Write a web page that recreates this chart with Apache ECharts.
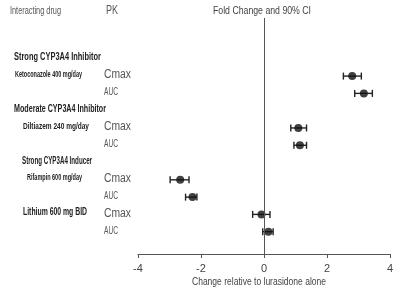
<!DOCTYPE html>
<html>
<head>
<meta charset="utf-8">
<script src="https://cdn.jsdelivr.net/npm/echarts@6/dist/echarts.min.js"></script>
<style>
  html, body { margin: 0; padding: 0; background: #fff; }
  #main { width: 400px; height: 294px; }
</style>
</head>
<body>
<div id="main"></div>
<script>
// one row per line of the table, row 0 at the top
const groupLabels = [
  'Strong CYP3A4 Inhibitor', 'Ketoconazole 400 mg/day',
  'Moderate CYP3A4 Inhibitor', 'Diltiazem 240 mg/day',
  'Strong CYP3A4 Inducer', 'Rifampin 600 mg/day',
  'Lithium 600 mg BID'
]
const groupRows = [0, 1, 3, 4, 6, 7, 9]
const pkRows = [1, 2, 4, 5, 7, 8, 9, 10]
const pkLabels = ['Cmax', 'AUC', 'Cmax', 'AUC', 'Cmax', 'AUC', 'Cmax', 'AUC']
const foldChange = [2.8, 3.17, 1.09, 1.14, -2.66, -2.27, -0.08, 0.14]
const ciLow = [2.52, 2.88, 0.85, 0.95, -2.98, -2.49, -0.36, -0.04]
const ciHigh = [3.09, 3.44, 1.35, 1.35, -2.38, -2.13, 0.19, 0.29]
const xTicks = [-4, -2, 0, 2, 4]

// layout of the left-hand labels: [left, font px, target width]
const groupLayout = [
  [14, 11, 87], [15, 9.5, 67],
  [14, 11, 92], [23, 9.5, 66],
  [22, 11, 70], [27, 9, 55],
  [23, 10.5, 64]
]

const FONT = "'Liberation Sans', Arial, sans-serif"
const ctx = document.createElement('canvas').getContext('2d')
// squeeze a regular font to look like the condensed face of the original
function squeezed(text, x, y, font, width, fill, align) {
  ctx.font = font
  const sx = width / ctx.measureText(text).width
  return {
    type: 'text',
    x: x,
    y: y,
    scaleX: sx,
    style: { text, font, fill, textAlign: align || 'left', textVerticalAlign: 'middle' },
    z: 10
  }
}

const chart = echarts.init(document.getElementById('main'))

chart.setOption({
  animation: false,
  grid: { left: 138, right: 10, top: 18, bottom: 40 },
  xAxis: {
    type: 'value',
    min: xTicks[0],
    max: xTicks[xTicks.length - 1],
    interval: 2,
    splitLine: { show: false },
    axisLine: { show: true, onZero: false, lineStyle: { color: '#555', width: 1 } },
    axisTick: { show: true, length: 4, lineStyle: { color: '#555' } },
    axisLabel: { color: '#444', fontSize: 11, fontFamily: FONT, margin: 9 }
  },
  yAxis: {
    type: 'value',
    inverse: true,
    min: -2.36,
    max: 11.29,
    show: false
  },
  series: [
    {
      type: 'custom',
      data: pkRows.map((r, i) => [ciLow[i], ciHigh[i], r]),
      renderItem(params, api) {
        const a = api.coord([api.value(0), api.value(2)])
        const b = api.coord([api.value(1), api.value(2)])
        const h = 3.5
        const style = { stroke: '#222', lineWidth: 1.4 }
        return {
          type: 'group',
          children: [
            { type: 'line', shape: { x1: a[0], y1: a[1], x2: b[0], y2: b[1] }, style },
            { type: 'line', shape: { x1: a[0], y1: a[1] - h, x2: a[0], y2: a[1] + h }, style },
            { type: 'line', shape: { x1: b[0], y1: b[1] - h, x2: b[0], y2: b[1] + h }, style }
          ]
        }
      },
      z: 3
    },
    {
      type: 'scatter',
      data: pkRows.map((r, i) => [foldChange[i], r]),
      symbolSize: 8,
      itemStyle: { color: '#111' },
      z: 4,
      markLine: {
        silent: true,
        symbol: 'none',
        label: { show: false },
        lineStyle: { color: '#555', width: 1, type: 'solid' },
        data: [{ xAxis: 0 }]
      }
    }
  ]
})

const yPix = r => chart.convertToPixel({ yAxisIndex: 0 }, r)
const graphics = [
  squeezed('Interacting drug', 10, 11, '10.5px ' + FONT, 51, '#555'),
  squeezed('PK', 106, 11, '12px ' + FONT, 12, '#555'),
  squeezed('Fold Change and 90% CI', 213, 11, '11.5px ' + FONT, 98, '#444'),
  squeezed('Change relative to lurasidone alone', 192, 282, '11.5px ' + FONT, 134, '#444')
]
groupLabels.forEach((t, i) => {
  const [left, size, w] = groupLayout[i]
  graphics.push(squeezed(t, left, yPix(groupRows[i]) - 2, 'bold ' + size + 'px ' + FONT, w, '#222'))
})
pkLabels.forEach((t, i) => {
  const cmax = t === 'Cmax'
  graphics.push(squeezed(t, 104, yPix(pkRows[i]) - 1,
    (cmax ? '12px ' : '11px ') + FONT, cmax ? 27 : 14, '#555'))
})
chart.setOption({ graphic: graphics })
</script>
</body>
</html>
